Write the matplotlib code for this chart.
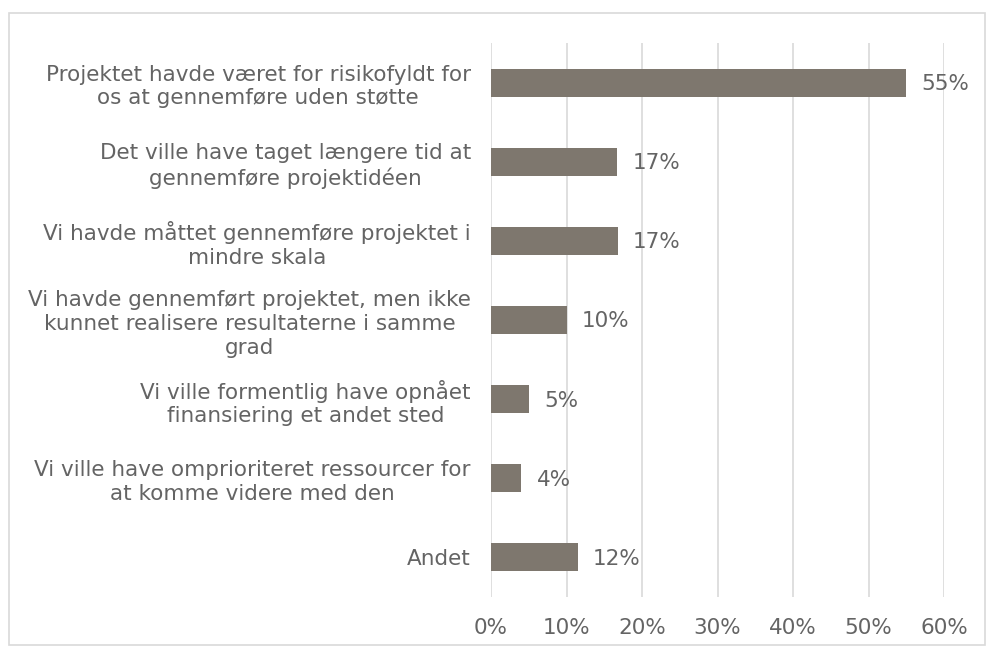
import matplotlib
matplotlib.use("Agg")
import matplotlib.pyplot as plt
from matplotlib.patches import Rectangle

categories = [
    "Projektet havde været for risikofyldt for\nos at gennemføre uden støtte",
    "Det ville have taget længere tid at\ngennemføre projektidéen",
    "Vi havde måttet gennemføre projektet i\nmindre skala",
    "Vi havde gennemført projektet, men ikke\nkunnet realisere resultaterne i samme\ngrad",
    "Vi ville formentlig have opnået\nfinansiering et andet sted",
    "Vi ville have omprioriteret ressourcer for\nat komme videre med den",
    "Andet",
]
values = [55, 16.7, 16.8, 10, 5, 4, 11.5]
value_labels = ["55%", "17%", "17%", "10%", "5%", "4%", "12%"]
xticks = [0, 10, 20, 30, 40, 50, 60]
xtick_labels = ["0%", "10%", "20%", "30%", "40%", "50%", "60%"]

text_color = "#646464"
bar_color = "#7E776E"
grid_color = "#D9D9D9"
fs = 15.5

plt.rcParams['font.family'] = ['DejaVu Sans']

fig = plt.figure(figsize=(9.88, 6.48), dpi=100)
ax = fig.add_axes([491/988, 1-597/648, (944-491)/988, (597-43)/648])

y = list(range(len(categories)))
ax.barh(y, values, height=0.355, color=bar_color, zorder=3)
ax.set_ylim(len(categories)-0.5, -0.5)
ax.set_xlim(0, 60)
ax.set_xticks(xticks)
ax.set_xticklabels(xtick_labels)
ax.set_yticks(y)
ax.set_yticklabels(categories, multialignment='center', linespacing=1.24)
ax.tick_params(axis='both', length=0, labelsize=fs, colors=text_color)
ax.tick_params(axis='y', pad=14.5)
ax.tick_params(axis='x', pad=15)
ax.grid(axis='x', color=grid_color, linewidth=1.2, zorder=0)
for s in ax.spines.values():
    s.set_visible(False)

for yi, v, lab in zip(y, values, value_labels):
    ax.annotate(lab, xy=(v, yi), xytext=(11, -1), textcoords='offset points',
                va='center', ha='left', fontsize=fs, color=text_color)

fig.patches.append(Rectangle((9/988, 1-645/648), (985-9)/988, (645-13)/648,
                             transform=fig.transFigure, fill=False,
                             edgecolor=grid_color, linewidth=1.2))

fig.savefig("out.png", dpi=100)
